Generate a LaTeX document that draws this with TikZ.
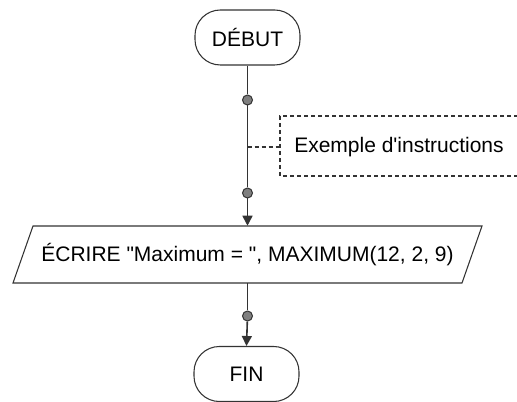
\documentclass[tikz,border=0pt]{standalone}
\usepackage{fontspec}
\setmainfont{Liberation Sans}[Ligatures=TeXOff]
\usetikzlibrary{arrows.meta}
\definecolor{linec}{HTML}{333333}
\definecolor{dotc}{HTML}{7F7F7F}
\tikzset{
  term/.style={draw=linec, line width=0.8pt, rounded corners=19pt, minimum width=78.75pt, minimum height=41.25pt, inner sep=0pt, font=\fontsize{15.75pt}{18pt}\selectfont},
  junc/.style={circle, draw=linec, fill=dotc, line width=0.75pt, minimum size=7.5pt, inner sep=0pt},
  flow/.style={draw=linec, line width=1.2pt},
  flowarr/.style={flow, -{Triangle[length=7.5pt,width=7.5pt]}},
  cmt/.style={draw=linec, line width=0.8pt, dash pattern=on 3pt off 2.25pt},
  txt/.style={inner sep=0pt, font=\fontsize{15.75pt}{18pt}\selectfont}
}
\begin{document}
\begin{tikzpicture}[x=0.75pt,y=-0.75pt]
\useasboundingbox (0,0) rectangle (517,402);
\node[term] (debut) at (247.5,37.5) {DÉBUT};
\node[junc] (d1) at (247.5,100) {};
\node[junc] (d2) at (247.5,193) {};
\node[txt, minimum width=336.75pt, minimum height=42.75pt] (ecr) at (247.5,254.5) {ÉCRIRE "Maximum = ", MAXIMUM(12, 2, 9)};
\node[junc] (d3) at (247.5,316) {};
\node[term] (fin) at (246.5,374) {FIN};
\coordinate (c) at (247.5,147);
\coordinate (ctl) at (280,116);
\coordinate (ctr) at (518,116);
\coordinate (cml) at (280,147);
\coordinate (cbl) at (280,176);
\coordinate (cbr) at (518,176);
\node[txt, anchor=west] (ctext) at (294,147) {Exemple d'instructions};
\draw[line width=0.8pt, draw=linec] (33,226) coordinate (p1) -- (482,226) coordinate (p2) -- (462,283) coordinate (p3) -- (13,283) coordinate (p4) -- cycle;
\draw[flow] (debut) -- (d1);
\draw[flow] (d1) -- (d2);
\draw[flowarr] (d2) -- (ecr.north);
\draw[flow] (ecr.south) -- (d3);
\draw[flowarr] (d3) -- (fin.north);
\draw[cmt] (c) -- (cml);
\draw[cmt] (ctr) -- (ctl) -- (cbl) -- (cbr);
\end{tikzpicture}
\end{document}
